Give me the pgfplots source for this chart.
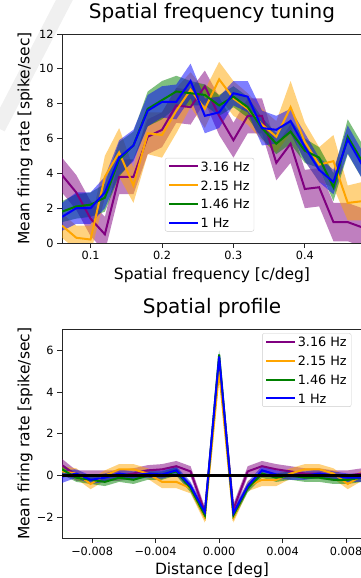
\documentclass[border=0pt]{standalone}
\usepackage{pgfplots}
\usepackage{pgfplotstable}
\usepgfplotslibrary{fillbetween}
\usepackage{fontspec}
\setmainfont{DejaVu Sans}
\pgfplotsset{compat=1.18}

\definecolor{mplpurple}{RGB}{128,0,128}
\definecolor{mplorange}{RGB}{255,165,0}
\definecolor{mplgreen}{RGB}{0,128,0}
\definecolor{mplblue}{RGB}{0,0,255}

\pgfplotstableread{
x     p    pe   o    oe   g    ge   b    be
0.06  3.9  1.0  1.0  0.7  1.8  0.6  1.5  0.8
0.08  2.9  1.0  0.3  0.7  2.1  0.7  2.0  0.9
0.10  1.4  1.0  0.2  0.8  2.2  0.7  2.0  0.9
0.12  0.5  1.0  3.8  1.2  2.6  0.8  2.9  0.9
0.14  3.8  1.0  5.2  1.4  4.8  1.0  4.9  1.0
0.16  3.8  1.0  3.3  1.0  5.6  0.8  5.6  0.9
0.18  6.1  1.0  6.3  1.2  7.7  1.0  7.6  0.9
0.20  6.5  1.0  6.2  1.3  8.2  1.1  8.1  0.9
0.22  7.9  1.0  7.6  1.3  8.7  0.9  8.1  1.0
0.24  7.8  1.0  8.8  1.0  8.6  0.7  9.3  1.0
0.26  9.0  0.9  7.7  1.1  8.5  0.6  7.3  1.0
0.28  7.3  1.1  9.4  1.0  7.9  0.6  7.5  0.9
0.30  5.9  1.0  8.3  1.0  8.4  0.6  8.6  0.7
0.32  7.3  1.0  7.7  0.9  7.8  0.6  8.4  0.9
0.34  7.3  1.0  6.8  0.9  6.6  0.6  6.6  1.0
0.36  4.6  1.0  6.1  0.9  5.7  0.6  6.5  0.8
0.38  5.7  1.1  7.8  1.5  6.4  0.7  7.0  0.7
0.40  3.1  1.1  5.8  1.1  5.3  0.7  5.5  0.8
0.42  3.2  1.1  4.5  1.0  4.9  0.6  4.2  0.7
0.44  1.2  1.1  4.7  1.5  3.2  0.8  3.5  0.7
0.46  1.2  1.1  2.3  1.0  6.1  1.0  5.95 0.8
0.48  0.9  1.1  2.4  1.1  4.7  1.0  4.5  0.8
}\tuning

\pgfplotstableread{
x        p     pe   o     oe   g     ge   b     be
-0.0099  0.5   0.3  0.2   0.25 0.3   0.25 -0.05 0.3
-0.0090  0.0   0.25 0.1   0.25 -0.1  0.2  0.1   0.2
-0.0081  0.0   0.25 -0.4  0.25 -0.2  0.2  -0.2  0.2
-0.0072  0.0   0.25 0.0   0.25 -0.3  0.2  -0.1  0.2
-0.0063  0.0   0.25 0.3   0.25 -0.1  0.2  0.1   0.2
-0.0054  0.1   0.25 0.3   0.25 -0.2  0.2  0.0   0.2
-0.0045  0.25  0.25 0.1   0.25 0.0   0.2  0.1   0.2
-0.0036  0.3   0.25 -0.3  0.3  0.0   0.2  0.05  0.2
-0.0027  0.45  0.25 -0.3  0.3  0.2   0.2  0.25  0.2
-0.0018  0.2   0.25 -0.6  0.25 -0.6  0.2  -0.5  0.2
-0.0009  -1.75 0.25 -2.0  0.25 -1.9  0.2  -1.75 0.2
0.0000   5.5   0.25 5.0   0.25 5.8   0.2  5.7   0.2
0.0009   -1.6  0.25 -2.0  0.25 -1.9  0.2  -1.8  0.2
0.0018   0.2   0.25 -0.5  0.25 -0.6  0.2  -0.5  0.2
0.0027   0.45  0.25 -0.2  0.3  0.1   0.2  0.25  0.2
0.0036   0.3   0.25 -0.2  0.3  -0.1  0.2  0.05  0.2
0.0045   0.2   0.25 0.1   0.25 0.0   0.2  0.0   0.2
0.0054   0.1   0.25 0.3   0.25 -0.1  0.2  0.0   0.2
0.0063   0.1   0.25 0.3   0.25 -0.1  0.2  0.1   0.2
0.0072   0.0   0.25 0.1   0.25 -0.2  0.2  0.0   0.2
0.0081   0.0   0.25 -0.4  0.25 -0.2  0.2  -0.1  0.2
0.0090   0.1   0.25 0.0   0.25 -0.1  0.2  -0.1  0.2
}\profile

\pgfplotsset{
  myaxis/.style={
    scale only axis, width=300pt, height=209pt,
    axis line style={black!85, line width=0.8pt},
    tick align=outside, major tick length=4.9pt,
    tick style={black!85, line width=0.8pt},
    xtick pos=bottom, ytick pos=left,
    scaled x ticks=false, scaled y ticks=false,
    ticklabel style={font=\fontsize{11.3}{13}\selectfont},
    /pgf/number format/assume math mode=true,
    label style={font=\fontsize{15.5}{18}\selectfont},
    title style={font=\fontsize{20}{24}\selectfont, at={(axis description cs:0.5,1)}, anchor=south, inner sep=0pt, yshift=5pt},
    ylabel style={at={(axis description cs:-0.123,0.5)}, anchor=center},
    xlabel style={at={(axis description cs:0.5,-0.153)}, anchor=center},
    legend cell align=left,
    legend style={draw=black!20, rounded corners=2pt, fill=white, fill opacity=0.8, text opacity=1,
      font=\fontsize{12.8}{15}\selectfont, inner xsep=3pt, inner ysep=2pt,
      nodes={inner sep=1.5pt, text height=9.5pt, text depth=0pt}, row sep=6.4pt},
    legend image code/.code={\draw[#1, line width=2pt] (0pt,0pt) -- (29pt,0pt);},
  },
  band/.style={draw=none, fill=#1, fill opacity=0.5, forget plot},
  ln/.style={#1, line width=2pt},
}

\newcommand{\series}[3]{%
  \addplot[name path=u#2, draw=none, forget plot] table[x=x, y expr=\thisrow{#2}+\thisrow{#2e}]{#1};
  \addplot[name path=l#2, draw=none, forget plot] table[x=x, y expr=\thisrow{#2}-\thisrow{#2e}]{#1};
  \addplot[band=#3] fill between[of=u#2 and l#2];
  \addplot[ln=#3] table[x=x, y=#2]{#1};
}

\begin{document}
\begin{tikzpicture}
\draw[line width=15pt, black!6] (68pt,585pt) -- (-2pt,450pt);

% ---------- top ----------
\begin{axis}[myaxis, at={(62pt,335pt)}, anchor=south west,
  xmin=0.06, xmax=0.48, ymin=0, ymax=12,
  xtick={0.1,0.2,0.3,0.4}, xticklabels={0.1,0.2,0.3,0.4},
  ytick={0,2,4,6,8,10,12}, yticklabels={0,2,4,6,8,10,12},
  title={Spatial frequency tuning},
  xlabel={Spatial frequency [c/deg]},
  ylabel={Mean firing rate [spike/sec]},
  legend style={at={(axis description cs:0.343,0.407)}, anchor=north west},
]
\series{\tuning}{p}{mplpurple}
\series{\tuning}{o}{mplorange}
\series{\tuning}{g}{mplgreen}
\series{\tuning}{b}{mplblue}
\legend{3.16 Hz, 2.15 Hz, 1.46 Hz, 1 Hz}
\end{axis}

% ---------- bottom ----------
\begin{axis}[myaxis, at={(62pt,39.7pt)}, anchor=south west,
  xmin=-0.0099, xmax=0.0090, ymin=-3, ymax=7,
  xtick={-0.008,-0.004,0,0.004,0.008}, xticklabels={−0.008,−0.004,0.000,0.004,0.008},
  ytick={-2,0,2,4,6}, yticklabels={−2,0,2,4,6},
  title={Spatial profile},
  xlabel={Distance [deg]},
  ylabel={Mean firing rate [spike/sec]},
  legend style={at={(axis description cs:0.667,0.981)}, anchor=north west},
]
\series{\profile}{p}{mplpurple}
\series{\profile}{o}{mplorange}
\series{\profile}{g}{mplgreen}
\series{\profile}{b}{mplblue}
\addplot[black, line width=2.4pt, forget plot] coordinates {(-0.0099,0) (0.0090,0)};
\legend{3.16 Hz, 2.15 Hz, 1.46 Hz, 1 Hz}
\end{axis}
\pgfresetboundingbox
\useasboundingbox (0pt,0pt) rectangle (361pt,578pt);
\end{tikzpicture}
\end{document}
